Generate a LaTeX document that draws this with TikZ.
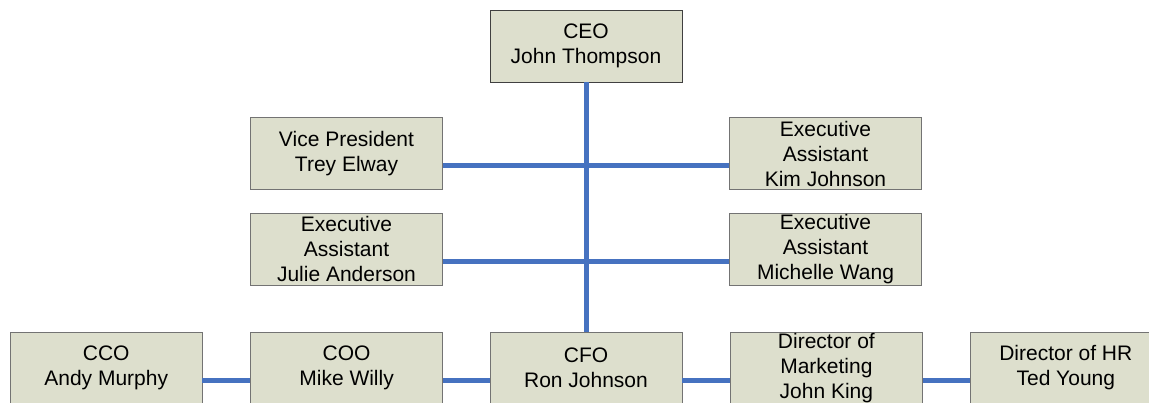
\documentclass[tikz,border=0pt]{standalone}
\usepackage{fontspec}
\setmainfont{Liberation Sans}
\usetikzlibrary{positioning}
\definecolor{boxfill}{RGB}{221,223,205}
\definecolor{linkblue}{RGB}{70,114,192}

\begin{document}
\begin{tikzpicture}[%
      x=1pt, y=-1pt,
      person/.style={draw=black!55, fill=boxfill, minimum width=192pt,
        minimum height=72pt, inner sep=0pt, align=center,
        font=\fontsize{21}{25}\selectfont},
      link/.style={color=linkblue, line width=5pt},
      ]
      \clip (0,0) rectangle (1149,403);

      \node[person, draw=black!75] (ceo) at (586,46) {CEO\\John Thompson};

      \node[person] (vp)       at (346.5,153.5) {Vice President\\Trey Elway};
      \node[person] (kim)      at (825.5,153.5) {Executive\\Assistant\\Kim Johnson};
      \node[person] (julie)    at (346.5,249) {Executive\\Assistant\\Julie Anderson};
      \node[person] (michelle) at (825.5,249) {Executive\\Assistant\\Michelle Wang};

      \node[person] (cfo) at (586,368) {CFO\\Ron Johnson};
      \node[person, left=47pt of cfo] (coo) {COO\\Mike Willy};
      \node[person, left=48pt of coo] (cco) {CCO\\Andy Murphy};
      \node[person, right=48pt of cfo] (marketing) {Director of\\Marketing\\John King};
      \node[person, right=47pt of marketing] (hr) {Director of HR\\Ted Young};

      \draw[link] (ceo.south) -- (cfo.north);
      \draw[link] ([yshift=-12pt]vp.east) -- ([yshift=-12pt]kim.west);
      \draw[link] ([yshift=-12.5pt]julie.east) -- ([yshift=-12.5pt]michelle.west);
      \draw[link] ([yshift=-12.5pt]cco.east) -- ([yshift=-12.5pt]coo.west);
      \draw[link] ([yshift=-12.5pt]coo.east) -- ([yshift=-12.5pt]cfo.west);
      \draw[link] ([yshift=-12.5pt]cfo.east) -- ([yshift=-12.5pt]marketing.west);
      \draw[link] ([yshift=-12.5pt]marketing.east) -- ([yshift=-12.5pt]hr.west);
\end{tikzpicture}
\end{document}
